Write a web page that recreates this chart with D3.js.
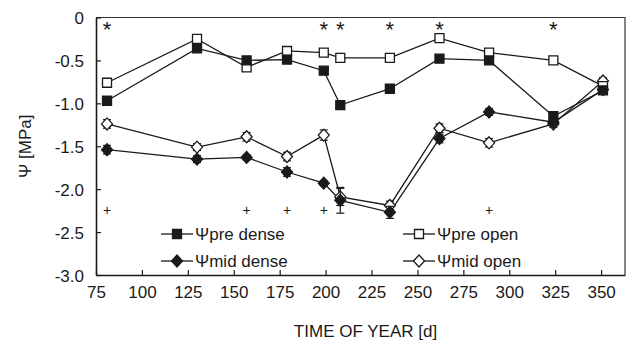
<!DOCTYPE html>
<html>
<head>
<meta charset="utf-8">
<script src="https://cdn.jsdelivr.net/npm/d3@7"></script>
<style>
  body { margin: 0; background: #fff; }
  svg text { font-family: "Liberation Sans", Arial, sans-serif; fill: #1a1a1a; }
</style>
</head>
<body>
<div id="chart"></div>
<script>
// day of year of each sampling
var days = [81, 130, 157, 179, 199, 208, 235, 262, 289, 324, 351];

// water potential values [MPa]
var preDense = [-0.97, -0.36, -0.50, -0.49, -0.62, -1.02, -0.83, -0.48, -0.50, -1.15, -0.85];
var preOpen  = [-0.76, -0.25, -0.58, -0.39, -0.41, -0.47, -0.47, -0.24, -0.41, -0.50, -0.80];
var midDense = [-1.54, -1.65, -1.63, -1.80, -1.93, -2.13, -2.27, -1.41, -1.10, -1.22, -0.84];
var midOpen  = [-1.24, -1.51, -1.39, -1.62, -1.37, -2.09, -2.19, -1.29, -1.46, -1.24, -0.74];

// standard errors
var preDenseErr = [0.03, 0.03, 0.03, 0.03, 0.03, 0.03, 0.03, 0.03, 0.03, 0.03, 0.03];
var preOpenErr  = [0.02, 0.02, 0.03, 0.02, 0.02, 0.05, 0.02, 0.02, 0.02, 0.02, 0.02];
var midDenseErr = [0.05, 0.04, 0.03, 0.05, 0.03, 0.15, 0.07, 0.05, 0.04, 0.04, 0.03];
var midOpenErr  = [0.05, 0.04, 0.05, 0.05, 0.06, 0.10, 0.05, 0.05, 0.05, 0.04, 0.04];

// significance marks
var starDays = [81, 199, 208, 235, 262, 324];
var plusDays = [81, 157, 179, 199, 289];

var xTicks = [75, 100, 125, 150, 175, 200, 225, 250, 275, 300, 325, 350];
var yTicks = [0, -0.5, -1.0, -1.5, -2.0, -2.5, -3.0];

var series = [
    { name: "\u03A8mid open",  values: midOpen,  err: midOpenErr,  shape: "diamond", fill: "#fff" },
    { name: "\u03A8mid dense", values: midDense, err: midDenseErr, shape: "diamond", fill: "#1a1a1a" },
    { name: "\u03A8pre open",  values: preOpen,  err: preOpenErr,  shape: "square",  fill: "#fff" },
    { name: "\u03A8pre dense", values: preDense, err: preDenseErr, shape: "square",  fill: "#1a1a1a" }
];

var w = 635, h = 342;
var plot = { left: 96, right: 625, top: 17.5, bottom: 275 };

var svg = d3.select("#chart").append("svg")
    .attr("width", w)
    .attr("height", h);

var xScale = d3.scaleLinear().domain([75, 363]).range([plot.left, plot.right]);
var yScale = d3.scaleLinear().domain([0, -3]).range([plot.top, plot.bottom]);

// frame (top and right)
svg.append("path")
    .attr("d", "M" + plot.left + "," + plot.top + "H" + plot.right + "V" + plot.bottom)
    .attr("fill", "none")
    .attr("stroke", "#333")
    .attr("stroke-width", 1.2);

var xAxis = d3.axisBottom(xScale)
    .tickValues(xTicks)
    .tickSizeInner(-5)
    .tickSizeOuter(0)
    .tickPadding(11)
    .tickFormat(d3.format("d"));

var yAxis = d3.axisLeft(yScale)
    .tickValues(yTicks)
    .tickSizeInner(-5)
    .tickSizeOuter(0)
    .tickPadding(12)
    .tickFormat(function (d) { return d === 0 ? "0" : d3.format(".1f")(d).replace("\u2212", "-"); });

var gx = svg.append("g")
    .attr("transform", "translate(0," + plot.bottom + ")")
    .call(xAxis);
var gy = svg.append("g")
    .attr("transform", "translate(" + plot.left + ",0)")
    .call(yAxis);

[gx, gy].forEach(function (g) {
    g.select(".domain").attr("stroke", "#1a1a1a").attr("stroke-width", 1.6);
    g.selectAll(".tick line").attr("stroke", "#1a1a1a").attr("stroke-width", 1.2);
    g.selectAll(".tick text").attr("font-size", 17).attr("fill", "#1a1a1a")
        .attr("font-family", "Liberation Sans, Arial, sans-serif");
});
gy.selectAll(".tick text").attr("dy", "0.36em");

// axis titles
svg.append("text")
    .attr("x", (plot.left + plot.right) / 2 + 5)
    .attr("y", 337)
    .attr("text-anchor", "middle")
    .attr("font-size", 17)
    .text("TIME OF YEAR [d]");

svg.append("text")
    .attr("transform", "translate(31," + ((plot.top + plot.bottom) / 2) + ") rotate(-90)")
    .attr("text-anchor", "middle")
    .attr("font-size", 17)
    .text("\u03A8 [MPa]");

function markerPath(shape) {
    if (shape === "square") return "M-4.5,-4.5H4.5V4.5H-4.5Z";
    return "M0,-6L5.5,0L0,6L-5.5,0Z";
}

var line = d3.line()
    .x(function (d) { return xScale(d.day); })
    .y(function (d) { return yScale(d.v); });

// lines first
series.forEach(function (s) {
    var pts = days.map(function (d, i) { return { day: d, v: s.values[i], e: s.err[i] }; });
    s.pts = pts;
    svg.append("path")
        .datum(pts)
        .attr("d", line)
        .attr("fill", "none")
        .attr("stroke", "#1a1a1a")
        .attr("stroke-width", 1.3);
});

// error bars and markers
series.forEach(function (s) {
    var g = svg.append("g");
    var eb = g.selectAll(".eb").data(s.pts).enter().append("g");
    eb.append("line")
        .attr("x1", function (d) { return xScale(d.day); })
        .attr("x2", function (d) { return xScale(d.day); })
        .attr("y1", function (d) { return yScale(d.v - d.e); })
        .attr("y2", function (d) { return yScale(d.v + d.e); })
        .attr("stroke", "#1a1a1a").attr("stroke-width", 1.2);
    [-1, 1].forEach(function (sign) {
        eb.append("line")
            .attr("x1", function (d) { return xScale(d.day) - 4; })
            .attr("x2", function (d) { return xScale(d.day) + 4; })
            .attr("y1", function (d) { return yScale(d.v + sign * d.e); })
            .attr("y2", function (d) { return yScale(d.v + sign * d.e); })
            .attr("stroke", "#1a1a1a").attr("stroke-width", 1.2);
    });
    g.selectAll(".m").data(s.pts).enter().append("path")
        .attr("d", markerPath(s.shape))
        .attr("transform", function (d) { return "translate(" + xScale(d.day) + "," + yScale(d.v) + ")"; })
        .attr("fill", s.fill)
        .attr("stroke", "#1a1a1a")
        .attr("stroke-width", 1.3);
});

// significance symbols
svg.selectAll(".star").data(starDays).enter().append("text")
    .attr("x", function (d) { return xScale(d); })
    .attr("y", yScale(-0.1) + 11)
    .attr("text-anchor", "middle")
    .attr("font-size", 22)
    .text("*");

svg.selectAll(".plus").data(plusDays).enter().append("text")
    .attr("x", function (d) { return xScale(d); })
    .attr("y", yScale(-2.24) + 5)
    .attr("text-anchor", "middle")
    .attr("font-size", 14)
    .text("+");

// legend
var legendItems = [
    { s: series[3], x: 161, y: 234 },
    { s: series[1], x: 161, y: 261 },
    { s: series[2], x: 403, y: 234 },
    { s: series[0], x: 403, y: 261 }
];
legendItems.forEach(function (it) {
    var g = svg.append("g").attr("transform", "translate(" + it.x + "," + it.y + ")");
    g.append("line").attr("x1", 0).attr("x2", 32).attr("y1", 0).attr("y2", 0)
        .attr("stroke", "#1a1a1a").attr("stroke-width", 1.3);
    g.append("path").attr("d", markerPath(it.s.shape))
        .attr("transform", "translate(16,0)")
        .attr("fill", it.s.fill).attr("stroke", "#1a1a1a").attr("stroke-width", 1.3);
    g.append("text").attr("x", 34).attr("y", 6).attr("font-size", 17).text(it.s.name);
});
</script>
</body>
</html>
